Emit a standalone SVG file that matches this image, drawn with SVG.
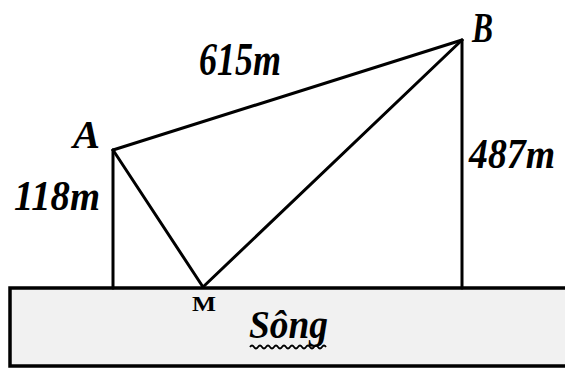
<svg xmlns="http://www.w3.org/2000/svg" width="565" height="368" viewBox="0 0 565 368">
<style>
.ln{stroke:#000;stroke-width:3;fill:none;stroke-linecap:round;stroke-linejoin:round}
.lb{font-family:'Liberation Serif','DejaVu Serif',serif;font-style:italic;font-weight:bold;fill:#000}
</style>
<rect x="0" y="0" width="565" height="368" fill="#fff"/>
<g id="river">
<rect x="10" y="288" width="558" height="78" fill="#f1f1f1" stroke="#000" stroke-width="3.5"/>
<text x="249" y="338" class="lb" font-size="40" textLength="79" lengthAdjust="spacingAndGlyphs">Sông</text>
<path d="M250,347 q2,-3 4,0 t4,0 t4,0 t4,0 t4,0 t4,0 t4,0 t4,0 t4,0 t4,0 t4,0 t4,0 t4,0 t4,0 t4,0 t4,0 t4,0 t4,0 t4,0" stroke="#000" stroke-width="1.8" fill="none"/>
</g>
<g id="connectors">
<line class="ln" x1="113" y1="150" x2="113" y2="288"/>
<line class="ln" x1="462" y1="40" x2="462" y2="288"/>
<line class="ln" x1="113" y1="150" x2="462" y2="40"/>
<line class="ln" x1="113" y1="150" x2="203" y2="287"/>
<line class="ln" x1="203" y1="287" x2="462" y2="40"/>
</g>
<g id="A"><text x="73" y="148" class="lb" font-size="40" textLength="27" lengthAdjust="spacingAndGlyphs">A</text></g>
<g id="B"><text x="472" y="42" class="lb" font-size="42" textLength="21" lengthAdjust="spacingAndGlyphs">B</text></g>
<g id="M"><text x="192" y="311" font-family="'Liberation Serif',serif" font-weight="bold" font-size="22" textLength="24" lengthAdjust="spacingAndGlyphs">M</text></g>
<g id="AB"><text x="199" y="75" class="lb" font-size="46" textLength="82" lengthAdjust="spacingAndGlyphs">615m</text></g>
<g id="AH"><text x="14" y="210" class="lb" font-size="42" textLength="86" lengthAdjust="spacingAndGlyphs">118m</text></g>
<g id="BK"><text x="469" y="168" class="lb" font-size="42" textLength="86" lengthAdjust="spacingAndGlyphs">487m</text></g>
</svg>
